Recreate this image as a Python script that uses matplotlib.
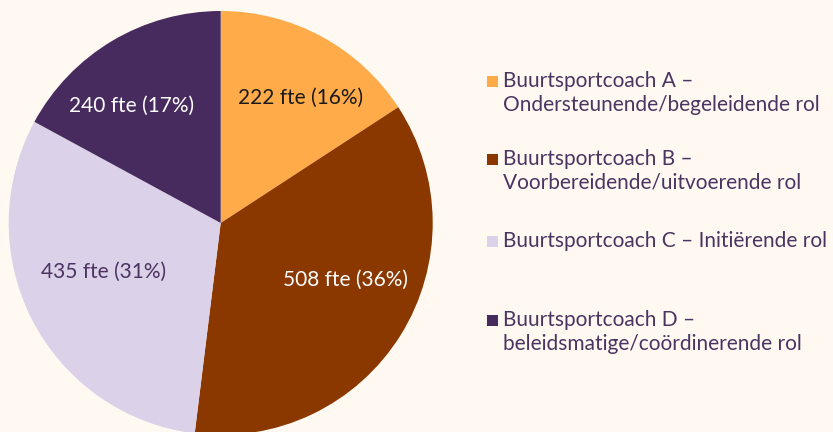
import matplotlib
matplotlib.use("Agg")
import matplotlib.pyplot as plt
from matplotlib.patches import Rectangle

plt.rcParams['font.family'] = ['Lato', 'DejaVu Sans']

categories = [
    "Buurtsportcoach A \u2013\nOndersteunende/begeleidende rol",
    "Buurtsportcoach B \u2013\nVoorbereidende/uitvoerende rol",
    "Buurtsportcoach C \u2013 Initi\u00ebrende rol",
    "Buurtsportcoach D \u2013\nbeleidsmatige/co\u00f6rdinerende rol",
]
fte = [222, 508, 435, 240]
colors = ["#FFAB4A", "#8A3700", "#DBD1E9", "#472B5E"]
label_colors = ["#1A1A1A", "#FFFFFF", "#4B3462", "#FFFFFF"]
bg = "#FFF9F2"
text_col = "#4B3462"

total = sum(fte)

def fmt(pct):
    return f"{round(pct * total / 100)} fte ({pct:.0f}%)"

fig = plt.figure(figsize=(8.33, 4.32), dpi=100, facecolor=bg)
W, H = 833, 432

# pie axes: centre ~ (221, 223) px, radius ~212 px
r = 212
cx, cy = 220.7, 223
ax = fig.add_axes([(cx - r) / W, (H - cy - r) / H, 2 * r / W, 2 * r / H])
ax.set_facecolor(bg)
wedges, texts, autotexts = ax.pie(
    fte, colors=colors, startangle=90, counterclock=False,
    autopct=fmt, pctdistance=0.68, radius=1,
    wedgeprops=dict(linewidth=0),
    textprops=dict(fontsize=15),
)
# small nudges (pixels, screen direction) so labels sit like the original
nudges = [(11, 2), (2, -19), (11, -17), (-15, 7)]
for t, c, (dx, dy) in zip(autotexts, label_colors, nudges):
    t.set_color(c)
    x, y = t.get_position()
    t.set_position((x + dx / r, y - dy / r))
ax.set_xlim(-1, 1)
ax.set_ylim(-1, 1)
ax.set_aspect("equal")
ax.axis("off")

# legend, drawn by hand so the square sits on the first line
tops = [71, 149, 231, 310]
sq = 11
for lab, col, top in zip(categories, colors, tops):
    fig.patches.append(Rectangle((487 / W, (H - top - 16) / H), sq / W, sq / H,
                                 transform=fig.transFigure, facecolor=col,
                                 edgecolor="none"))
    fig.text(503 / W, (H - top) / H, lab, fontsize=15, color=text_col,
             va="top", ha="left", linespacing=1.22)

fig.savefig("out.png", dpi=100, facecolor=bg)
